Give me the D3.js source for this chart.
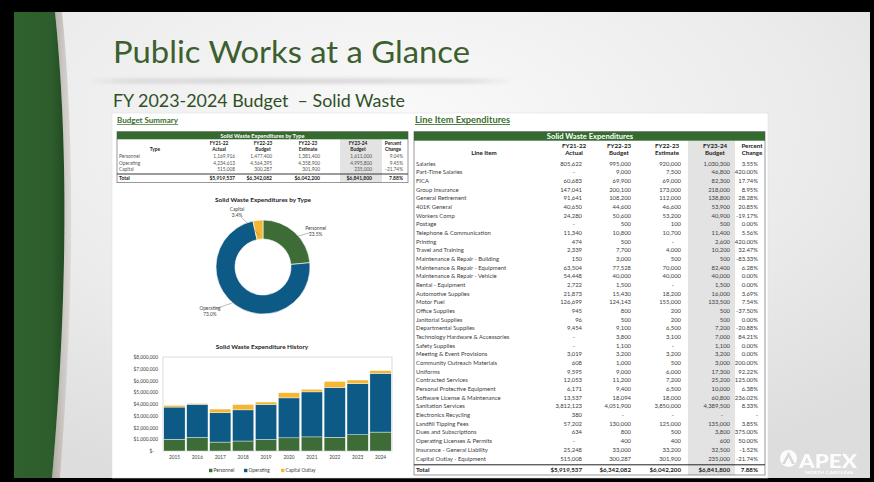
<!DOCTYPE html>
<html>
<head>
<meta charset="utf-8">
<script src="https://cdn.jsdelivr.net/npm/d3@7"></script>
<style>
  body { margin: 0; background: #000; }
  svg { display: block; }
</style>
</head>
<body>
<svg id="slide"></svg>
<script>
// ---- data -------------------------------------------------------------
const summaryTypes = ["Personnel", "Operating", "Capital"];
const summaryActual = [1169916, 4234613, 515008];
const summaryBudget = [1477400, 4564395, 300287];
const summaryEstimate = [1381400, 4358900, 301900];
const summaryFY24 = [1611000, 4995800, 235000];
const summaryPct = ["9.04%", "9.45%", "-21.74%"];
const summaryTotals = ["$5,919,537", "$6,342,082", "$6,042,200", "$6,841,800", "7.88%"];

const lineItems = [
  "Salaries", "Part-Time Salaries", "FICA", "Group Insurance", "General Retirement",
  "401K General", "Workers Comp", "Postage", "Telephone & Communication", "Printing",
  "Travel and Training", "Maintenance & Repair - Building", "Maintenance & Repair - Equipment",
  "Maintenance & Repair - Vehicle", "Rental - Equipment", "Automotive Supplies", "Motor Fuel",
  "Office Supplies", "Janitorial Supplies", "Departmental Supplies",
  "Technology Hardware & Accessories", "Safety Supplies", "Meeting & Event Provisions",
  "Community Outreach Materials", "Uniforms", "Contracted Services",
  "Personal Protective Equipment", "Software License & Maintenance", "Sanitation Services",
  "Electronics Recycling", "Landfill Tipping Fees", "Dues and Subscriptions",
  "Operating Licenses & Permits", "Insurance - General Liability", "Capital Outlay - Equipment"
];
const actual2122 = [805622, null, 60683, 147041, 91641, 40650, 24280, null, 11340, 474, 2339, 150, 63504, 54448, 2722, 21873, 126699, 945, 96, 9454, null, null, 3019, 608, 9595, 12053, 6171, 13537, 3812123, 380, 57202, 634, null, 25248, 515008];
const budget2223 = [995000, 9000, 69900, 200100, 108200, 44600, 50600, 500, 10800, 500, 7700, 3000, 77528, 40000, 1500, 15430, 124143, 800, 500, 9100, 3800, 1100, 3200, 1000, 9000, 11200, 9400, 18094, 4051900, null, 130000, 800, 400, 33000, 300287];
const estimate2223 = [920000, 7500, 69000, 173000, 112000, 46600, 53200, 100, 10700, null, 4000, 500, 70000, 40000, null, 18200, 155000, 200, 200, 6500, 3100, null, 3200, 500, 6000, 7200, 6500, 18000, 3850000, null, 125000, 500, 400, 33200, 301900];
const budget2324 = [1030300, 46800, 82300, 218000, 138800, 53900, 40900, 500, 11400, 2600, 10200, 500, 82400, 40000, 1500, 16000, 133500, 500, 500, 7200, 7000, 1100, 3200, 3000, 17300, 25200, 10000, 60800, 4389500, null, 135000, 3800, 600, 32500, 235000];
const pctChange = ["3.55%", "420.00%", "17.74%", "8.95%", "28.28%", "20.85%", "-19.17%", "0.00%", "5.56%", "420.00%", "32.47%", "-83.33%", "6.28%", "0.00%", "0.00%", "3.69%", "7.54%", "-37.50%", "0.00%", "-20.88%", "84.21%", "0.00%", "0.00%", "200.00%", "92.22%", "125.00%", "6.38%", "236.02%", "8.33%", "-", "3.85%", "375.00%", "50.00%", "-1.52%", "-21.74%"];
const lineTotals = ["$5,919,537", "$6,342,082", "$6,042,200", "$6,841,800", "7.88%"];

const years = ["2015", "2016", "2017", "2018", "2019", "2020", "2021", "2022", "2023", "2024"];
const histPersonnel = [1000000, 1150000, 760000, 850000, 980000, 1120000, 1200000, 1169916, 1381400, 1611000];
const histOperating = [2740000, 2830000, 2490000, 2650000, 2990000, 3400000, 3830000, 4234613, 4358900, 4995800];
const histCapital = [150000, 60000, 320000, 450000, 200000, 440000, 220000, 515008, 301900, 235000];
const historyKeys = ["Personnel", "Operating", "Capital Outlay"];

// ---- setup ------------------------------------------------------------
const W = 874, H = 482;
const FONT = "Lato, 'Open Sans', sans-serif";
const GREEN = "#356b2f";
const colors = { Personnel: "#3d6c37", Operating: "#0e5a86", Capital: "#f5b733", "Capital Outlay": "#f5b733" };
const fmt = d3.format(",");

const svg = d3.select("#slide").attr("width", W).attr("height", H);
const defs = svg.append("defs");

const bg = defs.append("radialGradient").attr("id", "bg")
  .attr("cx", "45%").attr("cy", "25%").attr("r", "80%");
bg.append("stop").attr("offset", "0%").attr("stop-color", "#fafafa");
bg.append("stop").attr("offset", "60%").attr("stop-color", "#ebebeb");
bg.append("stop").attr("offset", "100%").attr("stop-color", "#dddddd");

const stripe = defs.append("linearGradient").attr("id", "stripe");
stripe.append("stop").attr("offset", "0%").attr("stop-color", "#2f6230");
stripe.append("stop").attr("offset", "75%").attr("stop-color", "#2d5d2c");
stripe.append("stop").attr("offset", "100%").attr("stop-color", "#244b23");

const shade = defs.append("linearGradient").attr("id", "shade");
shade.append("stop").attr("offset", "0%").attr("stop-color", "#b3aca6");
shade.append("stop").attr("offset", "100%").attr("stop-color", "#dcdad8");

defs.append("filter").attr("id", "blur").attr("x", "-20%").attr("y", "-300%").attr("width", "140%").attr("height", "700%")
  .append("feGaussianBlur").attr("stdDeviation", 2.2);

// slide frame
svg.append("rect").attr("width", W).attr("height", H).attr("fill", "#000");
svg.append("rect").attr("x", 14).attr("y", 12).attr("width", 856).attr("height", 466).attr("fill", "url(#bg)");

// green stripe on the left
svg.append("path")
  .attr("d", "M55,12 C64,100 72,250 52,478 L60,478 C78,250 71,100 62,12 Z")
  .attr("fill", "url(#shade)");
svg.append("path")
  .attr("d", "M14,12 L55,12 C64,100 72,250 52,478 L14,478 Z")
  .attr("fill", "url(#stripe)");

// title shadow line
svg.append("ellipse").attr("cx", 300).attr("cy", 81).attr("rx", 210).attr("ry", 1.6)
  .attr("fill", "#9a9a9a").attr("opacity", 0.55).attr("filter", "url(#blur)");

svg.append("text").attr("x", 113).attr("y", 63)
  .attr("font-family", FONT).attr("font-size", 31).attr("fill", "#3b5f2f")
  .attr("textLength", 357).attr("lengthAdjust", "spacingAndGlyphs")
  .text("Public Works at a Glance");

svg.append("text").attr("x", 113).attr("y", 107)
  .attr("font-family", FONT).attr("font-size", 18).attr("fill", "#2f5027")
  .attr("textLength", 292).attr("lengthAdjust", "spacingAndGlyphs")
  .text("FY 2023-2024 Budget \u00a0\u2013 Solid Waste");

// white content panel
svg.append("rect").attr("x", 112).attr("y", 113).attr("width", 656).attr("height", 365)
  .attr("fill", "#fff").attr("stroke", "#e2e2e2").attr("stroke-width", 0.6);

// section headings
function heading(x, y, size, len, label) {
  svg.append("text").attr("x", x).attr("y", y)
    .attr("font-family", FONT).attr("font-weight", 700).attr("font-size", size)
    .attr("fill", "#3b6e2e").attr("text-decoration", "underline")
    .attr("textLength", len).attr("lengthAdjust", "spacingAndGlyphs")
    .text(label);
}
heading(117, 123, 7.2, 61, "Budget Summary");
heading(415, 123, 8.6, 95, "Line Item Expenditures");

// ---- small summary table ---------------------------------------------
(function summaryTable() {
  const g = svg.append("g").attr("font-family", FONT).attr("fill", "#222");
  const left = 117, right = 408, top = 131.7, bottom = 182.7;
  const colRight = d3.scaleOrdinal().domain(d3.range(5)).range([235, 272, 320, 372, 403]);
  const colHead = d3.scaleOrdinal().domain(d3.range(5)).range([219, 263, 308, 358, 393]);
  const rowY = d3.scalePoint().domain(summaryTypes).range([156.7, 169.3]);

  g.append("rect").attr("x", 340).attr("y", 139.3).attr("width", 42).attr("height", bottom - 139.3).attr("fill", "#e3e3e3");
  g.append("rect").attr("x", left).attr("y", top).attr("width", right - left).attr("height", 7.6).attr("fill", GREEN);
  g.append("text").attr("x", (left + right) / 2).attr("y", 137.6).attr("text-anchor", "middle")
    .attr("font-size", 5.6).attr("font-weight", 700).attr("fill", "#fff")
    .text("Solid Waste Expenditures by Type");
  g.append("rect").attr("x", left).attr("y", top).attr("width", right - left).attr("height", bottom - top)
    .attr("fill", "none").attr("stroke", "#555").attr("stroke-width", 0.6);

  const head1 = ["FY21-22", "FY22-23", "FY22-23", "FY23-24", "Percent"];
  const head2 = ["Actual", "Budget", "Estimate", "Budget", "Change"];
  g.selectAll("text.h1").data(head1).join("text").attr("class", "h1")
    .attr("x", (d, i) => colHead(i)).attr("y", 145).attr("text-anchor", "middle")
    .attr("font-size", 4.8).attr("font-weight", 700).text(d => d);
  g.selectAll("text.h2").data(head2).join("text").attr("class", "h2")
    .attr("x", (d, i) => colHead(i)).attr("y", 151.3).attr("text-anchor", "middle")
    .attr("font-size", 4.8).attr("font-weight", 700).text(d => d);
  g.append("text").attr("x", 155).attr("y", 151.3).attr("text-anchor", "middle")
    .attr("font-size", 4.8).attr("font-weight", 700).text("Type");

  const cols = [summaryActual, summaryBudget, summaryEstimate, summaryFY24];
  summaryTypes.forEach((t, r) => {
    const y = rowY(t) + 1.7;
    g.append("text").attr("x", 119).attr("y", y).attr("font-size", 4.8).attr("fill", "#555").text(t);
    cols.forEach((arr, c) => {
      g.append("text").attr("x", colRight(c)).attr("y", y).attr("text-anchor", "end")
        .attr("font-size", 4.8).attr("fill", "#555").text(fmt(arr[r]));
    });
    g.append("text").attr("x", colRight(4)).attr("y", y).attr("text-anchor", "end")
      .attr("font-size", 4.8).attr("fill", "#555").text(summaryPct[r]);
  });

  g.append("line").attr("x1", left).attr("x2", right).attr("y1", 174).attr("y2", 174)
    .attr("stroke", "#222").attr("stroke-width", 0.9);
  g.append("text").attr("x", 119).attr("y", 179.8).attr("font-size", 5).attr("font-weight", 700).text("Total");
  g.selectAll("text.tot").data(summaryTotals).join("text").attr("class", "tot")
    .attr("x", (d, i) => colRight(i)).attr("y", 179.8).attr("text-anchor", "end")
    .attr("font-size", 5).attr("font-weight", 700).text(d => d);
})();

// ---- donut --------------------------------------------------------------
(function donut() {
  const cx = 263, cy = 267, rOuter = 47, rInner = 28;
  const g = svg.append("g").attr("transform", `translate(${cx},${cy})`);
  svg.append("text").attr("x", cx).attr("y", 202).attr("text-anchor", "middle")
    .attr("font-family", FONT).attr("font-size", 6.4).attr("font-weight", 700).attr("fill", "#222")
    .text("Solid Waste Expenditures by Type");

  const total = d3.sum(summaryFY24);
  const pie = d3.pie().sort(null).value(d => d.v);
  const arcs = pie(summaryTypes.map((t, i) => ({ t, v: summaryFY24[i] })));
  const arc = d3.arc().innerRadius(rInner).outerRadius(rOuter);
  g.selectAll("path").data(arcs).join("path")
    .attr("d", arc).attr("fill", d => colors[d.data.t])
    .attr("stroke", "#fff").attr("stroke-width", 0.6);

  // label placement (radius, angle nudge in degrees, leader start radius)
  const labelStyle = {
    Personnel: { r: 64, rot: 13, lr: 38 },
    Operating: { r: 69, rot: 14, lr: 42 },
    Capital: { r: 61, rot: -19, lr: 32 }
  };
  const pct = d3.format(".1%");
  arcs.forEach(a => {
    const s = labelStyle[a.data.t];
    const mid = (a.startAngle + a.endAngle) / 2;
    const la = mid + s.rot * Math.PI / 180;
    const lx = s.r * Math.sin(la), ly = -s.r * Math.cos(la);
    const sx = s.lr * Math.sin(mid), sy = -s.lr * Math.cos(mid);
    g.append("line").attr("x1", sx).attr("y1", sy).attr("x2", lx + (sx - lx) * 0.18).attr("y2", ly + (sy - ly) * 0.22)
      .attr("stroke", "#555").attr("stroke-width", 0.4);
    const t = g.append("text").attr("x", lx).attr("y", ly - 1).attr("text-anchor", "middle")
      .attr("font-family", FONT).attr("font-size", 4.8).attr("fill", "#444");
    t.append("tspan").attr("x", lx).text(a.data.t);
    t.append("tspan").attr("x", lx).attr("dy", 6.3).text(pct(a.data.v / total));
  });
})();

// ---- expenditure history ------------------------------------------------
(function history() {
  const left = 163, right = 392, top = 357, bottom = 451;
  svg.append("text").attr("x", 262).attr("y", 349).attr("text-anchor", "middle")
    .attr("font-family", FONT).attr("font-size", 6.4).attr("font-weight", 700).attr("fill", "#222")
    .text("Solid Waste Expenditure History");

  const rows = years.map((yr, i) => ({
    year: yr, "Personnel": histPersonnel[i], "Operating": histOperating[i], "Capital Outlay": histCapital[i]
  }));
  const x = d3.scaleBand().domain(years).range([left, right]).paddingInner(0.07).paddingOuter(0.035);
  const y = d3.scaleLinear().domain([0, 8000000]).range([bottom, top]);
  const stack = d3.stack().keys(historyKeys)(rows);

  svg.append("rect").attr("x", left).attr("y", top).attr("width", right - left).attr("height", bottom - top)
    .attr("fill", "none").attr("stroke", "#c4c4c4").attr("stroke-width", 0.6);

  svg.append("g").selectAll("g").data(stack).join("g")
    .attr("fill", d => colors[d.key])
    .selectAll("rect").data(d => d).join("rect")
    .attr("x", d => x(d.data.year))
    .attr("y", d => y(d[1]))
    .attr("width", x.bandwidth())
    .attr("height", d => y(d[0]) - y(d[1]))
    .attr("stroke", "#fff").attr("stroke-width", 0.4);

  const yAxis = svg.append("g").attr("transform", `translate(${left},0)`)
    .call(d3.axisLeft(y).tickValues(d3.range(0, 8000001, 1000000)).tickSize(0).tickPadding(5)
      .tickFormat(d => d === 0 ? "$-" : d3.format("$,")(d)));
  yAxis.select(".domain").remove();
  yAxis.selectAll("text").attr("font-family", FONT).attr("font-size", 4.8).attr("fill", "#404040")
    .attr("dx", d => d === 0 ? -4 : 0);

  const xAxis = svg.append("g").attr("transform", `translate(0,${bottom})`)
    .call(d3.axisBottom(x).tickSize(0).tickPadding(5));
  xAxis.select(".domain").remove();
  xAxis.selectAll("text").attr("font-family", FONT).attr("font-size", 4.8).attr("fill", "#404040");

  // legend
  const legendX = d3.scaleOrdinal().domain(historyKeys).range([209, 244, 281]);
  const lg = svg.append("g").selectAll("g").data(historyKeys).join("g")
    .attr("transform", d => `translate(${legendX(d)},471)`);
  lg.append("rect").attr("x", 0).attr("y", -2.2).attr("width", 3.4).attr("height", 3.4).attr("fill", d => colors[d]);
  lg.append("text").attr("x", 4.5).attr("y", 1.2).attr("font-family", FONT).attr("font-size", 4.8)
    .attr("fill", "#404040").text(d => d);
})();

// ---- line item table ----------------------------------------------------
(function lineTable() {
  const g = svg.append("g").attr("font-family", FONT).attr("fill", "#404040");
  const left = 414, right = 765, top = 131.7, bottom = 475;
  const fs = 5.9;
  const colRight = d3.scaleOrdinal().domain(d3.range(5)).range([582, 631, 681, 730, 758]);
  const colHead = d3.scaleOrdinal().domain(d3.range(5)).range([574, 619, 667, 715, 752]);
  const rowY = d3.scalePoint().domain(lineItems).range([163.6, 458.4]);

  g.append("rect").attr("x", 688).attr("y", 140.7).attr("width", 47).attr("height", bottom - 140.7).attr("fill", "#e3e3e3");
  g.append("rect").attr("x", left).attr("y", top).attr("width", right - left).attr("height", 9).attr("fill", GREEN);
  g.append("text").attr("x", 590).attr("y", 139.2).attr("text-anchor", "middle")
    .attr("font-size", 7.6).attr("font-weight", 700).attr("fill", "#fff").text("Solid Waste Expenditures");
  g.append("rect").attr("x", left).attr("y", top).attr("width", right - left).attr("height", bottom - top)
    .attr("fill", "none").attr("stroke", "#555").attr("stroke-width", 0.6);

  const head1 = ["FY21-22", "FY22-23", "FY22-23", "FY23-24", "Percent"];
  const head2 = ["Actual", "Budget", "Estimate", "Budget", "Change"];
  g.selectAll("text.h1").data(head1).join("text").attr("class", "h1")
    .attr("x", (d, i) => colHead(i)).attr("y", 147.8).attr("text-anchor", "middle")
    .attr("font-size", 6.2).attr("font-weight", 700).attr("fill", "#222").text(d => d);
  g.selectAll("text.h2").data(head2).join("text").attr("class", "h2")
    .attr("x", (d, i) => colHead(i)).attr("y", 155.2).attr("text-anchor", "middle")
    .attr("font-size", 6.2).attr("font-weight", 700).attr("fill", "#222").text(d => d);
  g.append("text").attr("x", 484).attr("y", 155.2).attr("text-anchor", "middle")
    .attr("font-size", 6.2).attr("font-weight", 700).attr("fill", "#222").text("Line Item");

  const cols = [actual2122, budget2223, estimate2223, budget2324];
  const rows = g.selectAll("g.row").data(lineItems).join("g").attr("class", "row")
    .attr("transform", d => `translate(0,${rowY(d) + 2.1})`);
  rows.append("text").attr("x", 416).attr("font-size", fs).text(d => d);
  cols.forEach((arr, c) => {
    rows.append("text").attr("x", (d, i) => colRight(c) - (arr[i] == null ? 7 : 0))
      .attr("text-anchor", "end").attr("font-size", fs)
      .text((d, i) => arr[i] == null ? "-" : fmt(arr[i]));
  });
  rows.append("text").attr("x", colRight(4)).attr("text-anchor", "end").attr("font-size", fs)
    .text((d, i) => pctChange[i]);

  g.append("line").attr("x1", left).attr("x2", right).attr("y1", 464.8).attr("y2", 464.8)
    .attr("stroke", "#222").attr("stroke-width", 1);
  g.append("text").attr("x", 416).attr("y", 472).attr("font-size", 6.2).attr("font-weight", 700).attr("fill", "#222").text("Total");
  g.selectAll("text.tot").data(lineTotals).join("text").attr("class", "tot")
    .attr("x", (d, i) => colRight(i)).attr("y", 472).attr("text-anchor", "end")
    .attr("font-size", 6.2).attr("font-weight", 700).attr("fill", "#222").text(d => d);
})();

// ---- APEX logo ----------------------------------------------------------
(function logo() {
  const g = svg.append("g").attr("opacity", 0.92);
  g.append("circle").attr("cx", 788.5).attr("cy", 458.5).attr("r", 8.5).attr("fill", "#fff");
  g.append("path").attr("d", "M782,464 L788.5,451.5 L795,464 L792,464 L788.5,457 L785,464 Z").attr("fill", "#d9d9d9");
  g.append("text").attr("x", 799).attr("y", 467.5).attr("font-family", FONT).attr("font-weight", 900)
    .attr("font-size", 18).attr("fill", "#fff").attr("textLength", 58).attr("lengthAdjust", "spacingAndGlyphs")
    .text("APEX");
  g.append("text").attr("x", 805).attr("y", 474).attr("font-family", FONT).attr("font-weight", 700)
    .attr("font-size", 3.6).attr("fill", "#fff").attr("textLength", 48).attr("lengthAdjust", "spacingAndGlyphs")
    .text("NORTH CAROLINA");
})();
</script>
</body>
</html>
